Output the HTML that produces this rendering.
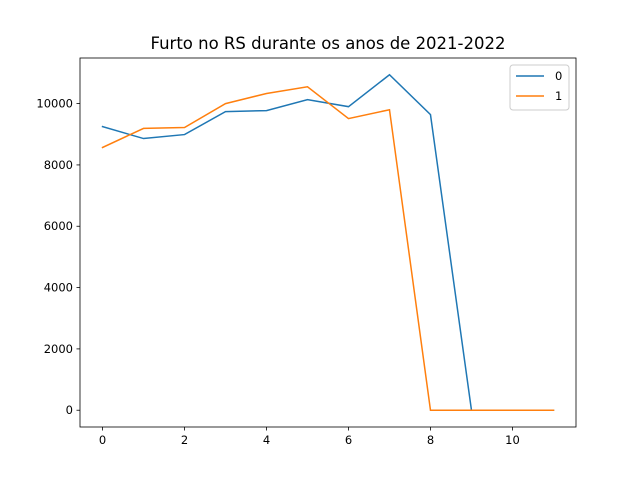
<!DOCTYPE html>
<html><head><meta charset="utf-8"><style>body{margin:0;background:#fff}svg{font-family:"DejaVu Sans","Liberation Sans",sans-serif}</style></head>
<body>
<svg id="chart" width="640" height="480"></svg>
<script>
const xValues=[0,1,2,3,4,5,6,7,8,9,10,11];
const series0=[9250,8860,8990,9740,9770,10130,9900,10940,9640,0,0,0];
const series1=[8570,9190,9220,10000,10330,10550,9510,9800,0,0,0,0];
const xTicks=[0,2,4,6,8,10];
const yTicks=[0,2000,4000,6000,8000,10000];
const seriesNames=["0","1"];
const colors=["#1f77b4","#ff7f0e"];
const L=80,R=576,T=58,B=427;
const xmin=-0.55,xmax=11.55,ymin=-547,ymax=11487;
const sx=v=>L+(v-xmin)/(xmax-xmin)*(R-L);
const sy=v=>B-(v-ymin)/(ymax-ymin)*(B-T);
const svg=document.getElementById('chart');
const NS='http://www.w3.org/2000/svg';
function mk(t,a,p){const e=document.createElementNS(NS,t);for(const k in a)e.setAttribute(k,a[k]);(p||svg).appendChild(e);return e;}
const title=mk('text',{x:328,y:49,'text-anchor':'middle','font-size':16.5,fill:'#000'});
title.textContent='Furto no RS durante os anos de 2021-2022';


[series0,series1].forEach((s,i)=>{
 const p=mk('polyline',{points:s.map((v,j)=>sx(xValues[j])+','+sy(v)).join(' '),fill:'none',stroke:colors[i],'stroke-width':1.5,'stroke-linecap':'square'});
 
 
});
const frame=mk('rect',{x:L,y:T,width:R-L,height:B-T,fill:'none',stroke:'#000','stroke-width':0.8});


xTicks.forEach(v=>{
 mk('line',{x1:sx(v),x2:sx(v),y1:B,y2:B+3.5,stroke:'#000','stroke-width':0.8});
 const t=mk('text',{x:sx(v),y:B+17,'text-anchor':'middle','font-size':11.5});
 t.textContent=v;
 
 
});
yTicks.forEach(v=>{
 mk('line',{x1:L-3.5,x2:L,y1:sy(v),y2:sy(v),stroke:'#000','stroke-width':0.8});
 const t=mk('text',{x:L-7,y:sy(v)+4,'text-anchor':'end','font-size':11.5});
 t.textContent=v;
 
 
});
const lg=mk('g',{});


mk('rect',{x:510,y:65,width:59,height:45,rx:3,fill:'#fff',stroke:'#ccc','stroke-width':1},lg);
seriesNames.forEach((n,i)=>{
 const y=76+i*20;
 mk('line',{x1:516,x2:544,y1:y,y2:y,stroke:colors[i],'stroke-width':1.5},lg);
 const t=mk('text',{x:555,y:y+4,'font-size':11.5},lg);
 t.textContent=n;
 
 
});
</script>
</body></html>
